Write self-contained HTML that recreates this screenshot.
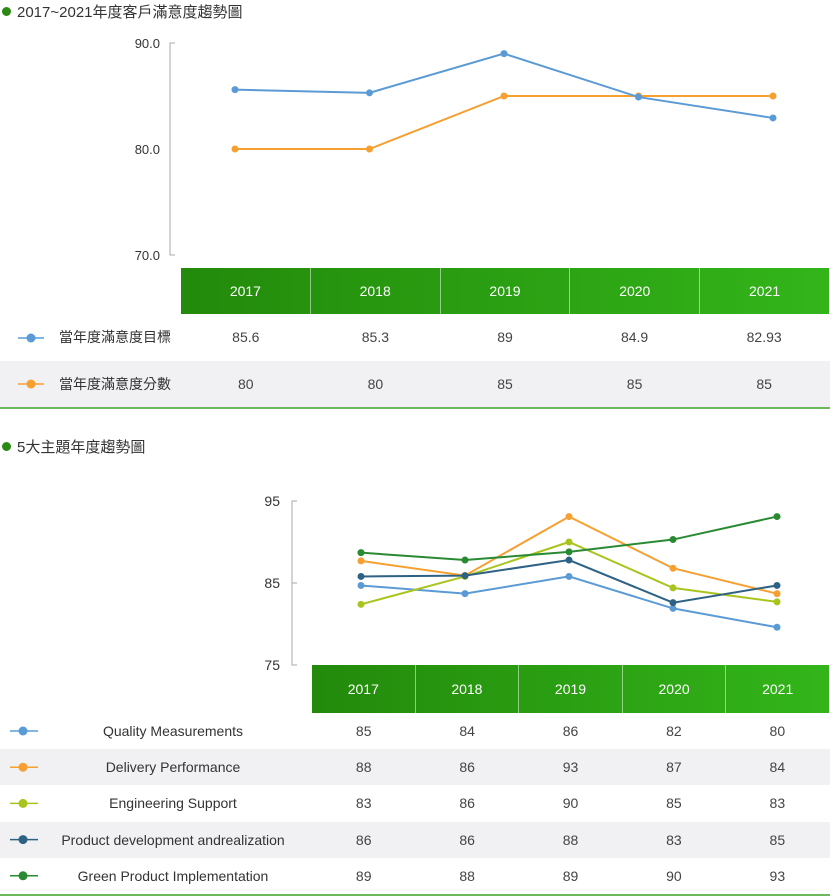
<!DOCTYPE html>
<html><head><meta charset="utf-8"><style>
body{margin:0;width:830px;height:895px;background:#fff;font-family:"Liberation Sans","Noto Sans CJK TC",sans-serif;position:relative;overflow:hidden;color:#333}
.abs{position:absolute}
.title{font-size:15px;color:#333}
.dot{display:inline-block;width:9px;height:9px;border-radius:50%;background:#2a8a14;margin-right:6px;vertical-align:1px}
.hdr{display:flex;background:linear-gradient(90deg,#238a0b,#33b51a);color:#fff;font-size:14px}
.hdr div{flex:1;text-align:center;border-left:1px solid rgba(255,255,255,.5)}
.hdr div:first-child{border-left:none}
.row{display:flex;font-size:14px;color:#444}
.row div{flex:1;text-align:center}
</style></head><body>
<div class="abs title" style="left:2px;top:1px"><span class="dot"></span>2017~2021年度客戶滿意度趨勢圖</div>
<svg class="abs" style="left:0;top:0" width="830" height="895" id="svg"></svg>
<div class="abs hdr" style="left:181px;top:268px;width:648px;height:46px;line-height:46px"><div>2017</div><div>2018</div><div>2019</div><div>2020</div><div>2021</div></div>
<div class="abs" style="left:0;top:314px;width:830px;height:47px;line-height:47px"><span class="abs" style="left:59px;font-size:14px">當年度滿意度目標</span><div class="abs row" style="left:181px;width:648px"><div>85.6</div><div>85.3</div><div>89</div><div>84.9</div><div>82.93</div></div></div>
<div class="abs" style="left:0;top:361px;width:830px;height:46px;line-height:46px;background:#f1f1f3;border-bottom:2px solid #6cb85a"><span class="abs" style="left:59px;font-size:14px">當年度滿意度分數</span><div class="abs row" style="left:181px;width:648px"><div>80</div><div>80</div><div>85</div><div>85</div><div>85</div></div></div>

<div class="abs title" style="left:2px;top:436px"><span class="dot"></span>5大主題年度趨勢圖</div>
<div class="abs hdr" style="left:312px;top:665px;width:517px;height:48px;line-height:48px"><div>2017</div><div>2018</div><div>2019</div><div>2020</div><div>2021</div></div>
<div id="t2"></div>
<script>
const years=["2017","2018","2019","2020","2021"];
const c1Ticks=[90,80,70];
const c1Target=[85.6,85.3,89,84.9,82.93];
const c1Score=[80,80,85,85,85];
const c2Ticks=[95,85,75];
const names=["Quality Measurements","Delivery Performance","Engineering Support","Product development andrealization","Green Product Implementation"];
const colors=["#5b9bd5","#f5a031","#a9c41c","#2e6284","#2a8a33"];
const plotQuality=[84.7,83.7,85.8,81.9,79.6];
const plotDelivery=[87.7,85.9,93.1,86.8,83.7];
const plotEng=[82.4,85.8,90.0,84.4,82.7];
const plotProd=[85.8,85.9,87.8,82.6,84.7];
const plotGreen=[88.7,87.8,88.8,90.3,93.1];
const tabQuality=[85,84,86,82,80];
const tabDelivery=[88,86,93,87,84];
const tabEng=[83,86,90,85,83];
const tabProd=[86,86,88,83,85];
const tabGreen=[89,88,89,90,93];
const plots=[plotQuality,plotDelivery,plotEng,plotProd,plotGreen];
const tabs=[tabQuality,tabDelivery,tabEng,tabProd,tabGreen];
const NS="http://www.w3.org/2000/svg",svg=document.getElementById('svg');
function mk(t,a,n){const e=document.createElementNS(NS,t);for(const k in a)e.setAttribute(k,a[k]);svg.appendChild(e);return e;}
// chart1
const x1=i=>235+i*134.5, y1=v=>43+(90-v)*10.6;
mk('path',{d:`M175 ${y1(90)} H170 V${y1(70)} H175`,stroke:'#aaa',fill:'none'},'c1-axis');
c1Ticks.forEach(t=>{const e=mk('text',{x:160,y:y1(t)+5,'text-anchor':'end','font-size':13,fill:'#333'},'c1-tick');e.textContent=t.toFixed(1);});
function series(vals,xf,yf,col,n,w){mk('polyline',{points:vals.map((v,i)=>xf(i)+','+yf(v)).join(' '),fill:'none',stroke:col,'stroke-width':w},n+'-line');vals.forEach((v,i)=>mk('circle',{cx:xf(i),cy:yf(v),r:3.5,fill:col},n+'-point'));}
series(c1Score,x1,y1,'#f5a031','c1-score',2);
series(c1Target,x1,y1,'#5b9bd5','c1-target',2);
[[338,'#5b9bd5'],[384,'#f5a031']].forEach(([y,c])=>{mk('line',{x1:18,x2:44,y1:y,y2:y,stroke:c,'stroke-width':1.5},'legend-line');mk('circle',{cx:31,cy:y,r:4.5,fill:c},'legend-marker');});
// chart2
const x2=i=>361+i*104, y2=v=>583+(85-v)*8.2;
mk('path',{d:`M297 ${y2(95)} H292 V${y2(75)} H297 M292 ${y2(85)} H297`,stroke:'#aaa',fill:'none'},'c2-axis');
c2Ticks.forEach(t=>{const e=mk('text',{x:280,y:y2(t)+5,'text-anchor':'end','font-size':14,fill:'#333'},'c2-tick');e.textContent=t;});
plots.forEach((p,k)=>series(p,x2,y2,colors[k],'c2-s'+k,2));
let h='';
names.forEach((n,k)=>{const top=713+k*36.2,ly=top+18;
mk('line',{x1:10,x2:38,y1:ly,y2:ly,stroke:colors[k],'stroke-width':1.5},'legend-line');mk('circle',{cx:23,cy:ly,r:4.5,fill:colors[k]},'legend-marker');
h+=`<div class="abs" style="left:0;top:${top}px;width:830px;height:36px;line-height:36px;${k%2?'background:#f1f1f3;':''}${k==4?'border-bottom:2px solid #6cb85a;':''}"><span class="abs" style="left:40px;width:266px;text-align:center;font-size:14px">${n}</span><div class="abs row" style="left:312px;width:517px">${tabs[k].map(v=>'<div>'+v+'</div>').join('')}</div></div>`;});
document.getElementById('t2').innerHTML=h;
svg.parentNode.appendChild(svg);
</script>
</body></html>
